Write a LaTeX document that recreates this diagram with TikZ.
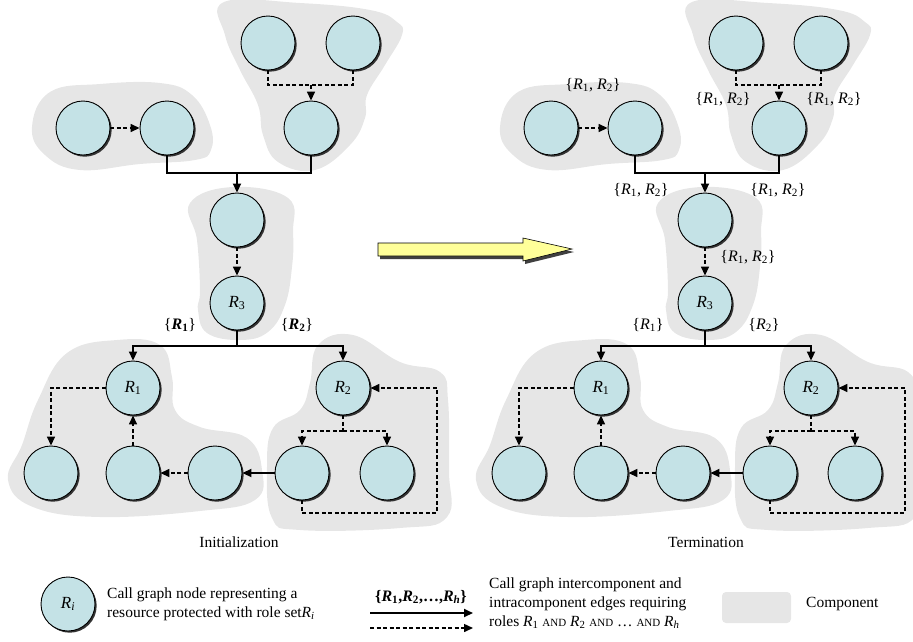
\documentclass[tikz,border=0pt]{standalone}
\usepackage{fontspec}
\setmainfont{Liberation Serif}
\usetikzlibrary{arrows.meta,shadows}

\definecolor{nodeblue}{HTML}{C4E2E6}
\definecolor{compgray}{HTML}{E6E6E6}
\definecolor{hiyellow}{HTML}{FFFF99}

\newcommand\Rit[1]{\textit{R}\textsubscript{#1}}
\newcommand\Rbf[1]{\textbf{\textit{R}\textsubscript{#1}}}
\newcommand\rolepair{\{\Rit{1}, \Rit{2}\}}

\tikzset{
  cnode/.style={circle, draw, line width=0.9pt, fill=nodeblue, minimum size=54pt,
    inner sep=0pt, font=\fontsize{17}{20}\selectfont,
    drop shadow={shadow xshift=1.7pt, shadow yshift=-1.7pt, fill=black!80, opacity=1}},
  comp/.style={fill=compgray, draw=none},
  tip/.style={-{Triangle[length=9pt,width=8pt]}},
  solidline/.style={line width=1.8pt},
  solidarrow/.style={solidline, tip},
  dashline/.style={line width=1.5pt, dash pattern=on 4pt off 2.5pt},
  dasharrow/.style={dashline, tip},
  rolelabel/.style={font=\fontsize{16}{19}\selectfont, inner sep=1pt},
  caption/.style={font=\fontsize{15.5}{19}\selectfont},
  legendtext/.style={font=\fontsize{15.5}{19}\selectfont, align=left, anchor=west, inner sep=0pt},
}

% One call graph with its components; #1 = name prefix, #2 = horizontal offset
\newcommand\callgraph[2]{%
\begin{scope}[xshift=#2pt]
  % components
  \fill[comp] plot[smooth cycle, tension=0.7] coordinates {(32,127) (50,92) (100,84) (160,83) (192,95) (210,125) (211,150) (195,160) (140,164) (80,170) (45,155)};
  \fill[comp] plot[smooth cycle, tension=0.7] coordinates {(224,2) (300,3) (370,10) (397,22) (402,35) (385,65) (367,95) (365,118) (350,145) (315,170) (278,162) (263,135) (258,105) (240,70) (225,35)};
  \fill[comp] plot[smooth cycle, tension=0.7] coordinates {(190,203) (233,187) (288,198) (293,233) (292,267) (285,305) (268,332) (240,340) (207,333) (198,310) (200,290) (197,240)};
  \fill[comp] plot[smooth cycle, tension=0.7] coordinates {(67,353) (117,340) (160,345) (172,377) (175,410) (200,427) (247,438) (262,470) (255,500) (200,511) (100,517) (33,507) (8,480) (22,445) (38,400)};
  \fill[comp] plot[smooth cycle, tension=0.7] coordinates {(318,345) (353,335) (400,362) (440,372) (448,400) (449,470) (447,517) (400,528) (300,530) (272,518) (267,467) (273,428) (300,410) (310,383)};
  % nodes
  \node[cnode] (#1a1) at (83,128) {};
  \node[cnode] (#1a2) at (167,128) {};
  \node[cnode] (#1b1) at (268,43) {};
  \node[cnode] (#1b2) at (353,43) {};
  \node[cnode] (#1b3) at (311,128) {};
  \node[cnode] (#1c1) at (237,220) {};
  \node[cnode] (#1r3) at (237,303) {\Rit{3}};
  \node[cnode] (#1r1) at (133,388) {\Rit{1}};
  \node[cnode] (#1r2) at (343,388) {\Rit{2}};
  \node[cnode] (#1d1) at (51,473) {};
  \node[cnode] (#1d2) at (133,473) {};
  \node[cnode] (#1d3) at (215,473) {};
  \node[cnode] (#1d4) at (302,473) {};
  \node[cnode] (#1d5) at (387,473) {};
  % junction points
  \coordinate (#1j1) at (311,85);
  \coordinate (#1j2) at (237,173);
  \coordinate (#1j3) at (237,346);
  \coordinate (#1j4) at (343,431);
  \coordinate (#1loop) at (437,513);
  % edges
  \draw[dasharrow] (#1a1) -- (#1a2);
  \draw[dashline] (#1b1.south) |- (#1j1) -| (#1b2.south);
  \draw[dasharrow] (#1j1) -- (#1b3);
  \draw[solidline] (#1a2.south) |- (#1j2) -| (#1b3.south);
  \draw[solidarrow] (#1j2) -- (#1c1);
  \draw[dasharrow] (#1c1) -- (#1r3);
  \draw[solidline] (#1r3) -- (#1j3);
  \draw[solidarrow] (#1j3) -| (#1r1);
  \draw[solidarrow] (#1j3) -| (#1r2);
  \draw[dasharrow] (#1r1.west) -| (#1d1);
  \draw[dasharrow] (#1d2) -- (#1r1);
  \draw[dasharrow] (#1d3) -- (#1d2);
  \draw[solidarrow] (#1d4) -- (#1d3);
  \draw[dashline] (#1r2) -- (#1j4);
  \draw[dasharrow] (#1j4) -| (#1d4);
  \draw[dasharrow] (#1j4) -| (#1d5);
  \draw[dasharrow] (#1d4.south) |- (#1loop) |- (#1r2.east);
\end{scope}}

\begin{document}
\begin{tikzpicture}[x=1pt, y=-1pt]
  \useasboundingbox (0,0) rectangle (913,641);

  \callgraph{L}{0}
  \callgraph{T}{468}

  % role sets before the propagation
  \node[rolelabel] (lab1) at (180,325) {\{\Rbf{1}\}};
  \node[rolelabel] (lab2) at (297,325) {\{\Rbf{2}\}};
  \node[caption] (cap1) at (239,542) {Initialization};

  % role sets after the propagation
  \node[rolelabel] (tl1) at (593,85) {\rolepair};
  \node[rolelabel] (tl2) at (723,99) {\rolepair};
  \node[rolelabel] (tl3) at (834,99) {\rolepair};
  \node[rolelabel] (tl4) at (641,190) {\rolepair};
  \node[rolelabel] (tl5) at (778,190) {\rolepair};
  \node[rolelabel] (tl6) at (748,257) {\rolepair};
  \node[rolelabel] (tl7) at (648,325) {\{\Rit{1}\}};
  \node[rolelabel] (tl8) at (764,325) {\{\Rit{2}\}};
  \node[caption] (cap2) at (706,542) {Termination};

  % big transition arrow
  \fill[black!75] ([shift={(2,3)}]378,243) -- ++(145,0) -- ++(0,-5) -- ++(49,11) -- ++(-49,12) -- ++(0,-5) -- ++(-145,0) -- cycle;
  \draw[fill=hiyellow, line width=0.6pt] (378,243) -- ++(145,0) -- ++(0,-5) -- ++(49,11) -- ++(-49,12) -- ++(0,-5) -- ++(-145,0) -- cycle;

  % legend
  \node[cnode] (keynode) at (68,604) {\Rit{\textit{i}}};
  \node[legendtext] (keynodetext) at (107,604) {Call graph node representing a\\resource protected with role set\Rit{\textit{i}}};

  \coordinate (ks1) at (370,613);
  \coordinate (ke1) at (473,613);
  \coordinate (ks2) at (370,628);
  \coordinate (ke2) at (473,628);
  \draw[solidarrow] (ks1) -- (ke1);
  \draw[dasharrow] (ks2) -- (ke2);
  \node[rolelabel] (keylabel) at (421,597) {\textbf{\{\Rbf{1},\Rbf{2},\ldots,\Rbf{\textit{h}}\}}};
  \node[legendtext] (keyedgetext) at (489,603) {Call graph intercomponent and\\intracomponent edges requiring\\roles \Rit{1} {\fontsize{11}{19}\selectfont AND} \Rit{2} {\fontsize{11}{19}\selectfont AND} \ldots\ {\fontsize{11}{19}\selectfont AND} \Rit{\textit{h}}};

  \fill[comp, rounded corners=4pt] (722,592) rectangle (791,623);
  \node[legendtext] (keycomp) at (806,604) {Component};
\end{tikzpicture}
\end{document}
